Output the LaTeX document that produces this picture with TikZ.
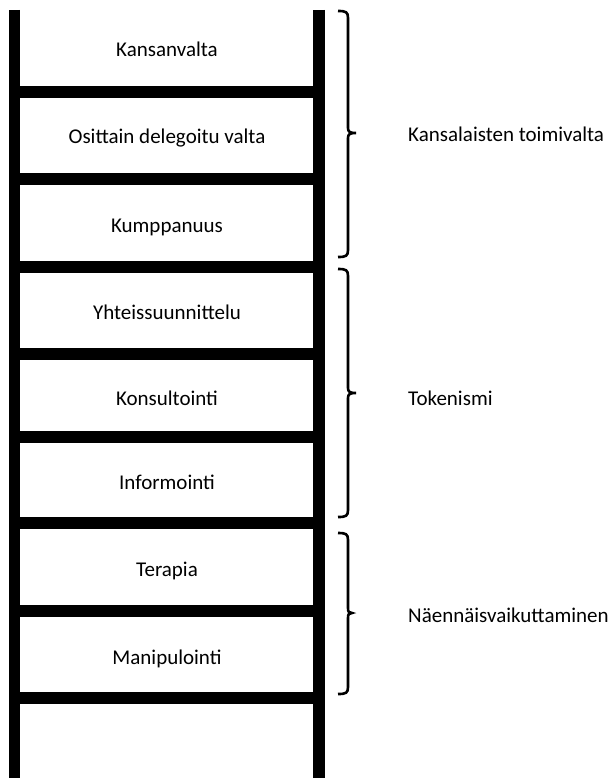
\documentclass[tikz,border=0pt]{standalone}
\usepackage{fontspec}
\setmainfont{Carlito}

\begin{document}
\begin{tikzpicture}[x=1pt, y=-1pt,
    rail/.style={line width=11.5pt, line cap=butt},
    rung/.style={line width=12pt},
    steplabel/.style={anchor=base, inner sep=0pt, font=\fontsize{21}{25}\selectfont},
    grouplabel/.style={anchor=base west, inner sep=0pt, font=\fontsize{21}{25}\selectfont},
    groupbrace/.style={line width=2.6pt}]
%% ── Canvas ───────────────────────────────────────────────────────────────
\fill[white] (0,0) rectangle (613,778);
\useasboundingbox (0,0) rectangle (613,778);
%% ── Ladder rails ─────────────────────────────────────────────────────────
\draw[rail] (14.5,10) -- (14.5,778);
\draw[rail] (319,10) -- (319,778);
%% ── Ladder rungs ─────────────────────────────────────────────────────────
\draw[rung] (14.5,92)  -- (319,92);
\draw[rung] (14.5,179) -- (319,179);
\draw[rung] (14.5,267) -- (319,267);
\draw[rung] (14.5,354) -- (319,354);
\draw[rung] (14.5,437) -- (319,437);
\draw[rung] (14.5,523) -- (319,523);
\draw[rung] (14.5,611) -- (319,611);
\draw[rung] (14.5,698) -- (319,698);
%% ── Step labels ──────────────────────────────────────────────────────────
\node[steplabel] (kansanvalta)   at (167,57)  {Kansanvalta};
\node[steplabel] (delegoitu)     at (167,144) {Osittain delegoitu valta};
\node[steplabel] (kumppanuus)    at (167,232) {Kumppanuus};
\node[steplabel] (yhteis)        at (167,319) {Yhteissuunnittelu};
\node[steplabel] (konsultointi)  at (167,405) {Konsultointi};
\node[steplabel] (informointi)   at (167,489) {Informointi};
\node[steplabel] (terapia)       at (167,576) {Terapia};
\node[steplabel] (manipulointi)  at (167,664) {Manipulointi};
%% ── Group braces ─────────────────────────────────────────────────────────
\draw[groupbrace] (338,11) .. controls (346,11) and (348,12) .. (348,18)
    -- (348,128) .. controls (348,132) and (350,133) .. (356,133)
    .. controls (350,133) and (348,134) .. (348,138)
    -- (348,250) .. controls (348,256) and (346,257) .. (338,257);
\draw[groupbrace] (338,269) .. controls (346,269) and (348,270) .. (348,276)
    -- (348,388) .. controls (348,392) and (350,393) .. (356,393)
    .. controls (350,393) and (348,394) .. (348,398)
    -- (348,510) .. controls (348,516) and (346,517) .. (338,517);
\draw[groupbrace] (338,533) .. controls (346,533) and (348,534) .. (348,540)
    -- (348,608) .. controls (348,612) and (349,613) .. (352,613)
    .. controls (349,613) and (348,614) .. (348,618)
    -- (348,687) .. controls (348,693) and (346,694) .. (338,694);
%% ── Group labels ─────────────────────────────────────────────────────────
\node[grouplabel] (toimivalta)  at (408,142) {Kansalaisten toimivalta};
\node[grouplabel] (tokenismi)   at (408,405) {Tokenismi};
\node[grouplabel] (naennais)    at (408,622) {Näennäisvaikuttaminen};
\end{tikzpicture}
\end{document}
